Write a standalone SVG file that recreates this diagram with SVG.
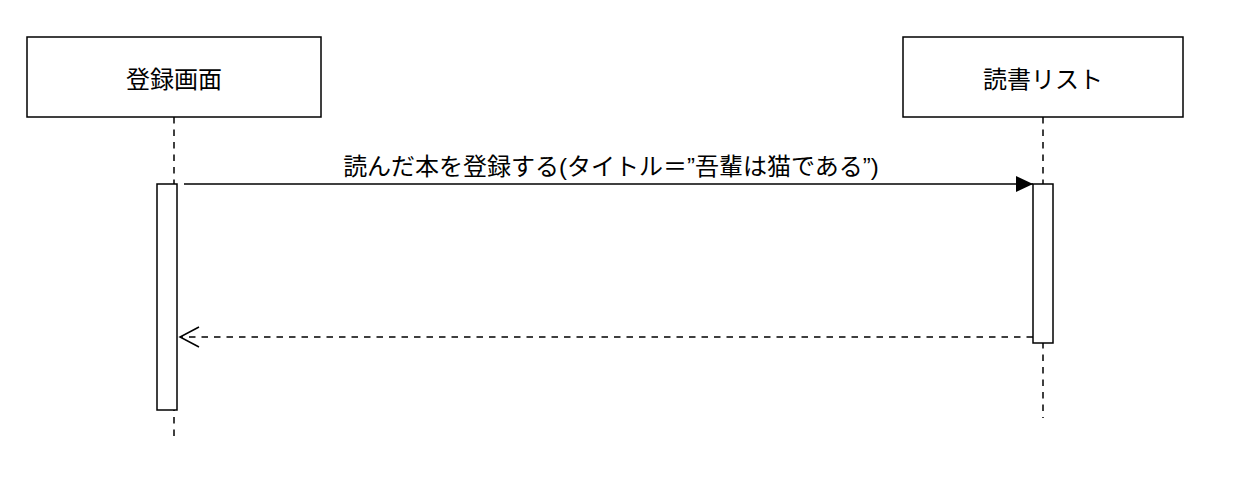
<svg xmlns="http://www.w3.org/2000/svg" width="1238" height="486" viewBox="0 0 1238 486">
<style>
.box{fill:#fff;stroke:#000;stroke-width:1.5}
.life{stroke:#000;stroke-width:1.5;stroke-dasharray:6.5 6;fill:none}
.msg{stroke:#000;stroke-width:1.5;fill:none}
.ret{stroke:#000;stroke-width:1.5;stroke-dasharray:6.5 6;fill:none}
text{font-family:"Liberation Sans","Noto Sans CJK JP",sans-serif;font-size:24px;fill:#000;text-anchor:middle}
</style>
<defs>
<marker id="filled" markerUnits="userSpaceOnUse" markerWidth="20" markerHeight="20" refX="17" refY="8" orient="auto">
<path d="M0,0 L17,8 L0,16 Z" fill="#000"/>
</marker>
<marker id="open" markerUnits="userSpaceOnUse" markerWidth="24" markerHeight="24" refX="20" refY="11" orient="auto">
<path d="M1,1 L20,11 L1,21" fill="none" stroke="#000" stroke-width="1.5"/>
</marker>
</defs>
<rect width="1238" height="486" fill="#fff"/>
<g id="lifelines">
<line class="life" x1="174" y1="117" x2="174" y2="442"/>
<line class="life" x1="1043" y1="117" x2="1043" y2="418"/>
</g>
<g id="node-touroku">
<rect class="box" x="27" y="37" width="294" height="80"/>
<text x="174" y="88">登録画面</text>
</g>
<g id="node-dokusho">
<rect class="box" x="903" y="37" width="280" height="80"/>
<text x="1043" y="88">読書リスト</text>
</g>
<g id="act-left">
<rect class="box" x="157" y="184" width="20" height="226"/>
</g>
<g id="act-right">
<rect class="box" x="1033" y="184" width="20" height="159"/>
</g>
<g id="connectors">
<line class="msg" x1="184" y1="184" x2="1033" y2="184" marker-end="url(#filled)"/>
<text x="611" y="175">読んだ本を登録する(タイトル＝”吾輩は猫である”)</text>
<line class="ret" x1="1033" y1="337" x2="180" y2="337" marker-end="url(#open)"/>
</g>
</svg>
